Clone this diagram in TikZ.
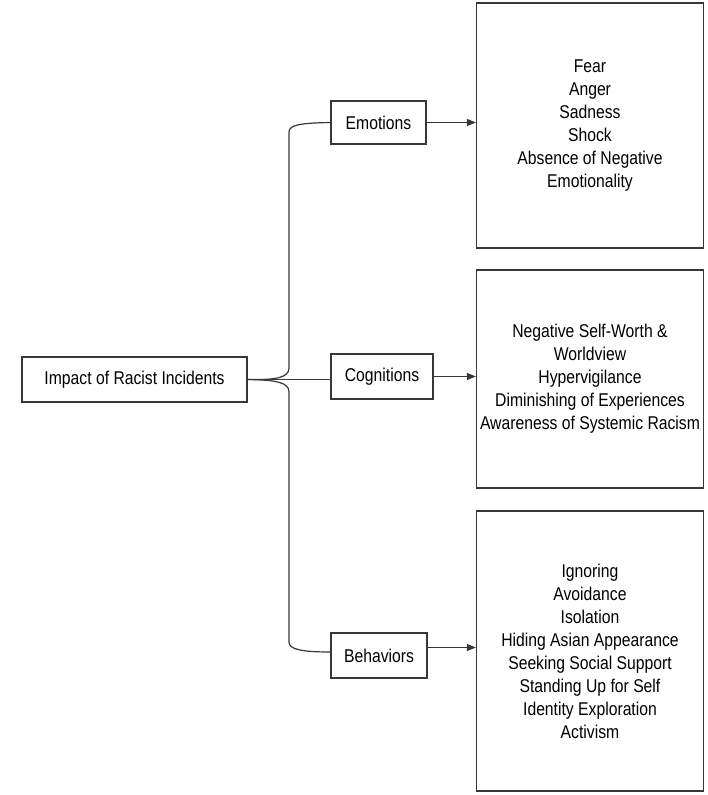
\documentclass[tikz,border=0pt]{standalone}
\usepackage{fontspec}
\setmainfont{Liberation Sans}[FakeStretch=0.85]
\usetikzlibrary{arrows.meta,calc,positioning}
\tikzset{
  >={Triangle[length=9pt,width=7pt]}
}

\begin{document}
\begin{tikzpicture}[x=1pt,y=1pt,line width=1.2pt,draw=black!78,
  box/.style={rectangle,draw=black!78,align=center,inner xsep=13pt,font=\fontsize{18.5}{23}\selectfont},
  list/.style={box,inner xsep=1pt,minimum width=227pt}]
        \useasboundingbox (0,0) rectangle (707,-795);

        \node (Impact) at (134.5, -379.5) [box,minimum width=225pt,minimum height=45pt] {Impact of Racist Incidents};
        \node (Emotions) at (378.5, -122.5) [box,minimum width=95pt,minimum height=43pt] {Emotions};
        \node (Cognitions) at (382, -376.5) [box,minimum width=102pt,minimum height=45pt] {Cognitions};
        \node (Behaviors) at (379, -655.5) [box,minimum width=96pt,minimum height=45pt] {Behaviors};

        \node (EmoBox) at (590, -125.5) [list,minimum height=245pt] {Fear\\Anger\\Sadness\\Shock\\Absence of Negative\\Emotionality};
        \node (CogBox) at (590, -379) [list,minimum height=218pt] {Negative Self-Worth \&\\Worldview\\Hypervigilance\\Diminishing of Experiences\\Awareness of Systemic Racism};
        \node (BehBox) at (590, -651) [list,minimum height=280pt] {Ignoring\\Avoidance\\Isolation\\Hiding Asian Appearance\\Seeking Social Support\\Standing Up for Self\\Identity Exploration\\Activism};

        \draw (Impact.east) .. controls (275, -380) and (289, -378) .. (289, -368) -- (289, -132) .. controls (289, -125) and (300, -123) .. (Emotions.west);
        \draw (Impact.east) .. controls (275, -380) and (289, -382) .. (289, -392) -- (289, -642) .. controls (289, -649) and (300, -652) .. ([yshift=3.5pt]Behaviors.west);
        \draw (Impact.east) -- (Impact.east -| Cognitions.west);

        \draw[->] (Emotions.east) -- (Emotions.east -| EmoBox.west);
        \draw[->] (Cognitions.east) -- (Cognitions.east -| CogBox.west);
        \draw[->] ([yshift=8pt]Behaviors.east) -- ([yshift=8pt]Behaviors.east -| BehBox.west);
    \end{tikzpicture}
\end{document}
